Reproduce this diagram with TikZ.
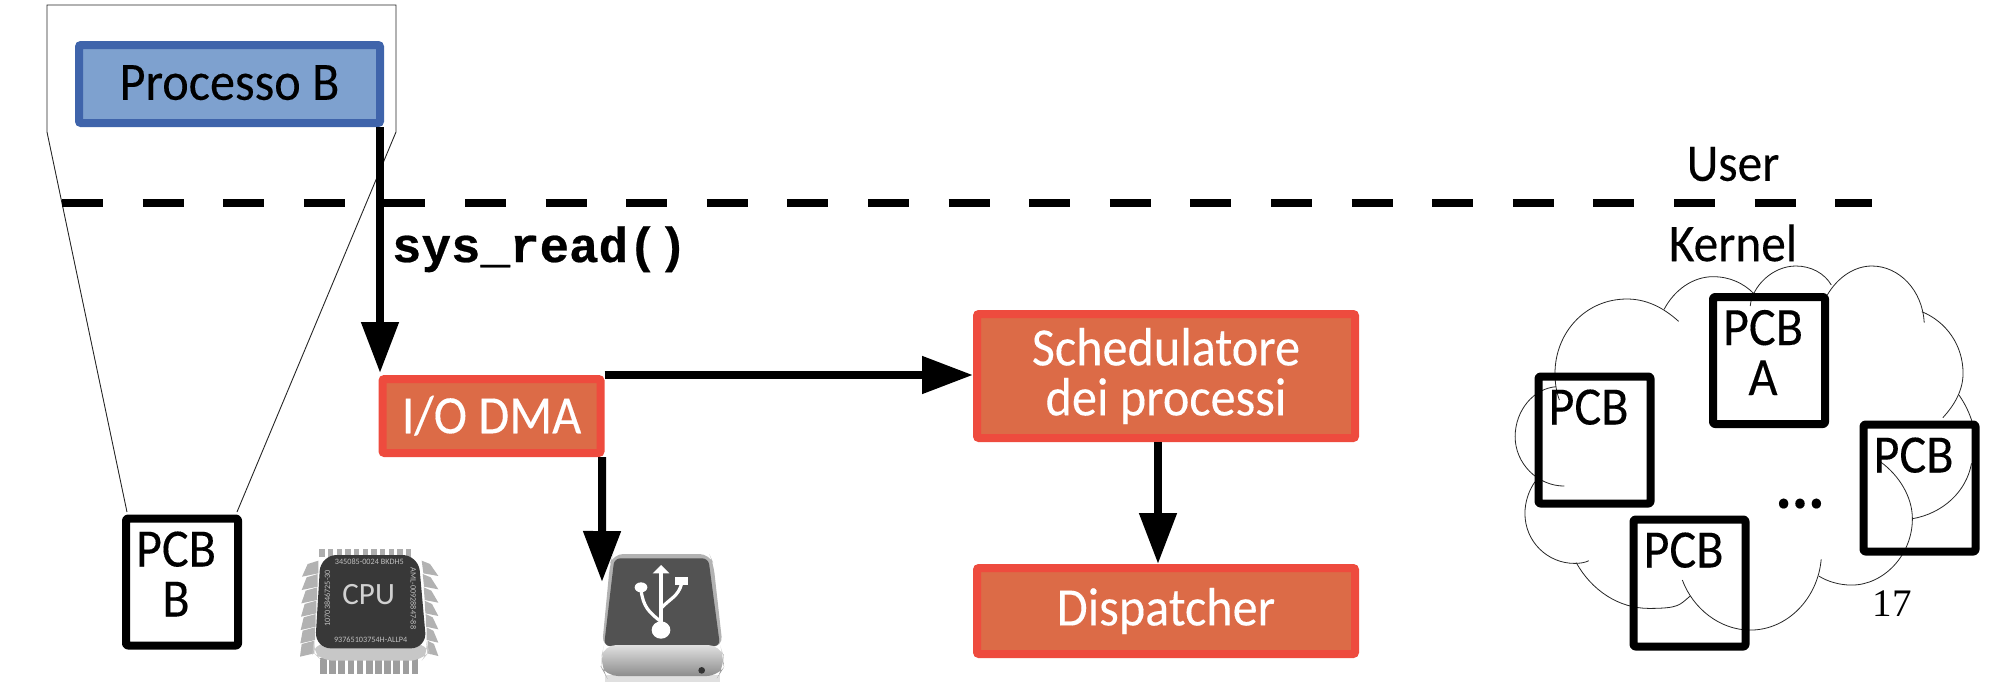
\documentclass[tikz,border=0pt]{standalone}
\usepackage{fontspec}
\setmainfont[FakeStretch=0.93,FakeBold=0.2]{Carlito}
\setmonofont[BoldFeatures={FakeBold=0.5}]{Liberation Mono}
\newfontfamily\timesf{Liberation Serif}
\newfontfamily\chipf{Carlito}
\usetikzlibrary{arrows.meta,calc}
\definecolor{bluefill}{HTML}{7EA1CF}
\definecolor{blueline}{HTML}{3F64AB}
\definecolor{orfill}{HTML}{DC6B47}
\definecolor{orline}{HTML}{EE4B3E}
\newcommand{\pcbtext}[1]{\parbox[c][63.5pt][t]{50pt}{\centering\baselineskip=25pt\rule{0pt}{24pt}#1}\hspace*{6pt}}
\tikzset{
  x=0.5pt,y=-0.5pt,
  lab/.style={font=\fontsize{26.5}{30}\selectfont,inner sep=0pt,outer sep=0pt},
  procbox/.style={draw=blueline,fill=bluefill,line width=4pt,rounded corners=1pt,inner sep=0pt,font=\fontsize{27}{30}\selectfont,text=black},
  osbox/.style={draw=orline,fill=orfill,line width=4pt,rounded corners=1pt,inner sep=0pt,align=center,font=\fontsize{27}{25}\selectfont,text=white},
  pcb/.style={draw=black,line width=4pt,line join=round,rounded corners=1pt,inner sep=0pt,minimum width=55.5pt,minimum height=63pt,font=\fontsize{27}{25}\selectfont},
  flow/.style={line width=4pt,-{Triangle[length=25.5pt,width=18pt]}},
  thin outline/.style={line width=0.45pt,draw=black!85},
  lobe/.style={line width=0.4pt,draw=black!85},
  chiptxt/.style={inner sep=0pt,text=black!25,font=\chipf\fontsize{4.1}{5}\selectfont}
}
\begin{document}
\begin{tikzpicture}
\useasboundingbox (0,0) rectangle (2010,686);
% outline of process
\draw[thin outline,line join=miter] (127,512) -- (47,132) -- (47,5) -- (396,5) -- (396,132) -- (237,512);
% dashed user/kernel line
\coordinate (dashL) at (62,203);
\coordinate (dashR) at (1872,203);
\draw[line width=4pt,dash pattern=on 20.5pt off 19.8pt] (dashL) -- (dashR);
% nodes
\node[procbox,minimum width=150.5pt,minimum height=39pt] (pb) at (229.5,84) {\raisebox{1.5pt}{Processo B}};
\node[osbox,minimum width=109pt,minimum height=37pt] (io) at (491.5,416) {\raisebox{1.5pt}{I/O DMA}};
\node[osbox,minimum width=189pt,minimum height=62pt] (sch) at (1166,376) {Schedulatore\\dei processi};
\node[osbox,minimum width=189pt,minimum height=43pt] (disp) at (1166,611) {Dispatcher};
\node[pcb] (pcbB) at (182,582) {\pcbtext{PCB\\B}};
% cloud
\begin{scope}[shift={(1480,240)},x=0.1689pt,y=-0.1667pt]
\draw[lobe] (588,244) .. controls (540,200) and (490,177) .. (435,177) .. controls (310,177) and (222,280) .. (222,400) .. controls (222,430) and (226,455) .. (235,480);
\draw[lobe] (545,208) .. controls (575,150) and (630,110) .. (690,110) .. controls (740,110) and (780,130) .. (810,160);
\draw[lobe] (800,198) .. controls (805,140) and (865,78) .. (935,78) .. controls (980,78) and (1020,100) .. (1040,135);
\draw[lobe] (1028,165) .. controls (1060,110) and (1110,78) .. (1160,78) .. controls (1240,78) and (1310,150) .. (1315,248);
\draw[lobe] (1308,215) .. controls (1380,245) and (1430,315) .. (1430,400) .. controls (1430,450) and (1405,495) .. (1370,533);
\draw[lobe] (1418,465) .. controls (1435,490) and (1450,520) .. (1458,550);
\draw[lobe] (1455,670) .. controls (1440,755) and (1370,820) .. (1280,836);
\draw[lobe] (1185,665) .. controls (1240,705) and (1280,770) .. (1280,836) .. controls (1280,945) and (1195,1035) .. (1100,1035) .. controls (1065,1035) and (1030,1025) .. (1003,1008);
\draw[lobe] (1010,958) .. controls (1000,1075) and (910,1170) .. (800,1170) .. controls (710,1170) and (630,1105) .. (599,1020);
\draw[lobe] (622,1068) .. controls (590,1095) and (590,1105) .. (500,1105) .. controls (410,1105) and (330,1050) .. (285,968);
\draw[lobe] (322,962) .. controls (310,968) and (295,970) .. (280,970) .. controls (200,970) and (133,905) .. (133,820) .. controls (133,785) and (145,750) .. (163,725);
\draw[lobe] (250,738) .. controls (170,738) and (104,670) .. (104,590) .. controls (104,510) and (160,445) .. (225,440);
\end{scope}
\node[pcb] (pcbA) at (1769,360.5) {\pcbtext{PCB\\A}};
\node[pcb] (pcbL) at (1594.5,440) {\pcbtext{PCB}};
\node[pcb] (pcbD) at (1689.5,583) {\pcbtext{PCB}};
\node[pcb] (pcbR) at (1919.5,488) {\pcbtext{PCB}};
% labels
\node[lab] (user) at (1733,164) {User};
\node[lab] (kernel) at (1733,243) {Kernel};
\node[lab,anchor=base west,font=\ttfamily\bfseries\fontsize{24.6}{28}\selectfont] (sys) at (392,262) {sys\_read()};
\node[lab,font=\bfseries\fontsize{33}{36}\selectfont,anchor=base] (dots) at (1800,508) {...};
\node[inner sep=0pt,anchor=base,font=\timesf\fontsize{19.5}{22}\selectfont] (pg) at (1892,616) {17};
% CPU icon
\begin{scope}[shift={(280,540)},x=0.1667pt,y=-0.1667pt]
\foreach \i in {0,...,10}{
  \fill[black!32] ({118+26*\i},28) rectangle ({134+26*\i},50);
  \fill[black!38] ({120+27.5*\i},355) rectangle ({140+27.5*\i},403);
}
\foreach \i in {0,...,6}{
  \fill[black!30] ({83-\i*3},{72+\i*40}) -- ({115-\i*2},{62+\i*40}) -- ({115-\i*2},{100+\i*40}) -- ({66-\i*1},{110+\i*40}) -- cycle;
  \fill[black!30] ({425+\i*3},{62+\i*40}) -- ({450+\i*2},{72+\i*40}) -- ({475},{108+\i*40}) -- ({430+\i*2},{100+\i*40}) -- cycle;
}
\fill[black!22,rounded corners=6pt] (100,310) -- (98,335) -- (125,362) -- (425,362) -- (448,335) -- (440,310) -- cycle;
\fill[black!78,rounded corners=8pt] (122,45) -- (415,45) -- (440,325) -- (105,325) -- cycle;
\node[chiptxt] (c1) at (268,66) {345085-0024 BKDH5};
\node[chiptxt] (c2) at (272,300) {93765103754H-ALLP4};
\node[chiptxt,rotate=90] (c3) at (142,175) {10703846725-30};
\node[chiptxt,rotate=-90] (c4) at (400,175) {AML-00928847-88};
\node[chiptxt,font=\chipf\fontsize{15.5}{17}\selectfont,text=black!18] (c5) at (266,165) {CPU};
\end{scope}
% USB drive icon
\begin{scope}[shift={(580,540)},x=0.1667pt,y=-0.1667pt]
\fill[black!12] (75,405) rectangle (420,425);
\fill[black!30,rounded corners=5pt] (100,42) -- (388,42) -- (400,70) -- (428,320) -- (66,320) -- (90,70) -- cycle;
\fill[black!68,rounded corners=3pt] (103,55) -- (385,55) -- (420,318) -- (72,318) -- cycle;
\shade[top color=black!12,bottom color=black!45,rounded corners=6pt] (72,315) -- (420,315) -- (430,345) -- (430,385) -- (415,408) -- (78,408) -- (65,385) -- (65,345) -- cycle;
\fill[black!80] (365,391) circle[radius=10];
\fill[white] (243,75) -- (268,100) -- (218,100) -- cycle;
\draw[white,line width=1.6pt] (243,95) -- (243,260);
\fill[white] (243,270) ellipse[x radius=28,y radius=26];
\fill[white] (183,142) ellipse[x radius=19,y radius=15];
\fill[white] (285,112) rectangle (325,134);
\draw[white,line width=1.6pt] (183,150) .. controls (190,200) and (205,215) .. (243,245);
\draw[white,line width=1.6pt] (305,130) .. controls (295,170) and (270,175) .. (243,205);
\end{scope}
% connectors
\coordinate (usbtip) at (602,582);
\draw[flow] ([xshift=-2pt]pb.south east) -- ([xshift=-2pt,yshift=1pt]pb.south east |- io.north);
\draw[flow] (io.north east) -- (io.north east -| sch.west);
\draw[flow] ([xshift=-1.2pt]io.south east) -- (usbtip);
\draw[flow] ([xshift=-4pt]sch.south) -- ([xshift=-4pt]disp.north);
\end{tikzpicture}
\end{document}
